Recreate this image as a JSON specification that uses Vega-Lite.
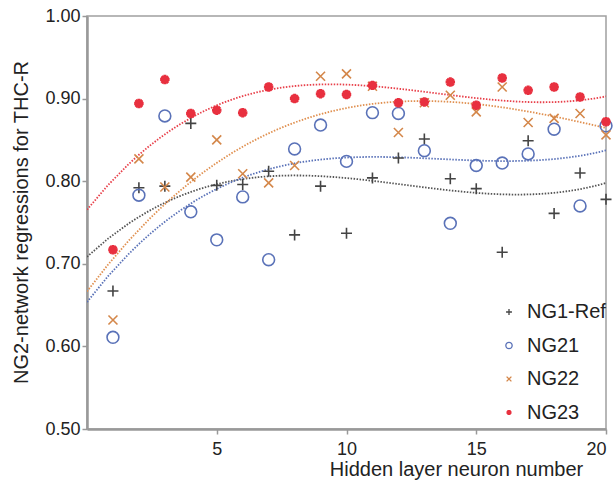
{
  "$schema": "https://vega.github.io/schema/vega-lite/v6.json",
  "width": 519,
  "height": 413,
  "autosize": {"type": "none"},
  "padding": {"left": 87, "top": 16, "right": 10, "bottom": 53},
  "background": "white",
  "config": {
    "font": "Liberation Sans",
    "view": {"stroke": "#a0a0a0", "strokeWidth": 1.5},
    "axis": {"grid": false, "domainColor": "#999999", "domainWidth": 2.5, "tickColor": "#999999", "tickWidth": 1.5, "tickSize": 5, "labelFont": "Liberation Sans", "labelFontSize": 18, "labelColor": "#222", "titleFont": "Liberation Sans", "titleFontSize": 20, "titleFontWeight": "normal", "titleColor": "#222"}
  },
  "data": {"values": [
    {"n":1,"series":"NG1-Ref","v":0.667},{"n":2,"series":"NG1-Ref","v":0.792},{"n":3,"series":"NG1-Ref","v":0.794},{"n":4,"series":"NG1-Ref","v":0.870},{"n":5,"series":"NG1-Ref","v":0.795},
    {"n":6,"series":"NG1-Ref","v":0.796},{"n":7,"series":"NG1-Ref","v":0.812},{"n":8,"series":"NG1-Ref","v":0.735},{"n":9,"series":"NG1-Ref","v":0.794},{"n":10,"series":"NG1-Ref","v":0.737},
    {"n":11,"series":"NG1-Ref","v":0.804},{"n":12,"series":"NG1-Ref","v":0.828},{"n":13,"series":"NG1-Ref","v":0.851},{"n":14,"series":"NG1-Ref","v":0.803},{"n":15,"series":"NG1-Ref","v":0.791},
    {"n":16,"series":"NG1-Ref","v":0.714},{"n":17,"series":"NG1-Ref","v":0.849},{"n":18,"series":"NG1-Ref","v":0.761},{"n":19,"series":"NG1-Ref","v":0.810},{"n":20,"series":"NG1-Ref","v":0.778},
    {"n":1,"series":"NG21","v":0.611},{"n":2,"series":"NG21","v":0.783},{"n":3,"series":"NG21","v":0.879},{"n":4,"series":"NG21","v":0.763},{"n":5,"series":"NG21","v":0.729},
    {"n":6,"series":"NG21","v":0.781},{"n":7,"series":"NG21","v":0.705},{"n":8,"series":"NG21","v":0.839},{"n":9,"series":"NG21","v":0.868},{"n":10,"series":"NG21","v":0.824},
    {"n":11,"series":"NG21","v":0.883},{"n":12,"series":"NG21","v":0.882},{"n":13,"series":"NG21","v":0.837},{"n":14,"series":"NG21","v":0.749},{"n":15,"series":"NG21","v":0.819},
    {"n":16,"series":"NG21","v":0.822},{"n":17,"series":"NG21","v":0.833},{"n":18,"series":"NG21","v":0.863},{"n":19,"series":"NG21","v":0.770},{"n":20,"series":"NG21","v":0.867},
    {"n":1,"series":"NG22","v":0.632},{"n":2,"series":"NG22","v":0.827},{"n":3,"series":"NG22","v":0.793},{"n":4,"series":"NG22","v":0.805},{"n":5,"series":"NG22","v":0.850},
    {"n":6,"series":"NG22","v":0.809},{"n":7,"series":"NG22","v":0.798},{"n":8,"series":"NG22","v":0.819},{"n":9,"series":"NG22","v":0.927},{"n":10,"series":"NG22","v":0.930},
    {"n":11,"series":"NG22","v":0.915},{"n":12,"series":"NG22","v":0.859},{"n":13,"series":"NG22","v":0.895},{"n":14,"series":"NG22","v":0.904},{"n":15,"series":"NG22","v":0.884},
    {"n":16,"series":"NG22","v":0.914},{"n":17,"series":"NG22","v":0.871},{"n":18,"series":"NG22","v":0.876},{"n":19,"series":"NG22","v":0.882},{"n":20,"series":"NG22","v":0.856},
    {"n":1,"series":"NG23","v":0.717},{"n":2,"series":"NG23","v":0.894},{"n":3,"series":"NG23","v":0.923},{"n":4,"series":"NG23","v":0.882},{"n":5,"series":"NG23","v":0.886},
    {"n":6,"series":"NG23","v":0.883},{"n":7,"series":"NG23","v":0.914},{"n":8,"series":"NG23","v":0.900},{"n":9,"series":"NG23","v":0.906},{"n":10,"series":"NG23","v":0.905},
    {"n":11,"series":"NG23","v":0.916},{"n":12,"series":"NG23","v":0.895},{"n":13,"series":"NG23","v":0.896},{"n":14,"series":"NG23","v":0.920},{"n":15,"series":"NG23","v":0.892},
    {"n":16,"series":"NG23","v":0.925},{"n":17,"series":"NG23","v":0.910},{"n":18,"series":"NG23","v":0.914},{"n":19,"series":"NG23","v":0.902},{"n":20,"series":"NG23","v":0.872}
  ]},
  "layer": [
    {
      "transform": [{"regression": "v", "on": "n", "groupby": ["series"], "method": "poly", "order": 3, "extent": [0, 20]}],
      "mark": {"type": "line", "strokeDash": [1.5, 1.5], "strokeWidth": 1.8, "clip": true},
      "encoding": {
        "x": {"field": "n", "type": "quantitative"},
        "y": {"field": "v", "type": "quantitative"},
        "detail": {"field": "series"},
        "stroke": {"field": "series", "type": "nominal", "legend": null, "scale": {"domain": ["NG23","NG22","NG21","NG1-Ref"], "range": ["#e8404a","#e09050","#5a72b8","#555555"]}}
      }
    },
    {
      "mark": {"type": "point", "filled": false, "opacity": 1, "size": 140, "strokeWidth": 1.6},
      "encoding": {
        "x": {"field": "n", "type": "quantitative", "scale": {"domain": [0, 20], "nice": false},
              "axis": {"values": [5, 10, 15, 20], "title": "Hidden layer neuron number", "labelPadding": 6, "titleX": 369, "titleY": 46, "titleBaseline": "alphabetic", "titleAlign": "center"}},
        "y": {"field": "v", "type": "quantitative", "scale": {"domain": [0.5, 1.0], "nice": false, "zero": false},
              "axis": {"values": [0.5, 0.6, 0.7, 0.8, 0.9, 1.0], "format": ".2f", "labelPadding": 2, "title": "NG2-network regressions for THC-R", "titleX": -60, "titleY": 206, "titleAngle": 270, "titleBaseline": "alphabetic", "titleAlign": "center"}},
        "color": {"field": "series", "type": "nominal", "title": null,
                  "scale": {"domain": ["NG1-Ref","NG21","NG22","NG23"], "range": ["#444444","#5a72b8","#d4874a","#e8303f"]},
                  "legend": {"orient": "none", "legendX": 412, "legendY": 286, "labelFontSize": 20, "labelColor": "#222", "symbolSize": 40, "symbolStrokeWidth": 1.3, "rowPadding": 13.5, "labelOffset": 8}},
        "shape": {"field": "series", "type": "nominal",
                  "scale": {"domain": ["NG1-Ref","NG21","NG22","NG23"], "range": [
                    "M-0.93,0L0.93,0M0,-0.93L0,0.93",
                    "circle",
                    "M-0.76,-0.76L0.76,0.76M-0.76,0.76L0.76,-0.76",
                    "M-0.8,-0.12L0.8,-0.12M-0.8,0L0.8,0M-0.8,0.12L0.8,0.12M-0.12,-0.8L-0.12,0.8M0,-0.8L0,0.8M0.12,-0.8L0.12,0.8M-0.57,-0.57L0.57,0.57M-0.485,-0.655L0.655,0.485M-0.655,-0.485L0.485,0.655M-0.57,0.57L0.57,-0.57M-0.485,0.655L0.655,-0.485M-0.655,0.485L0.485,-0.655"
                  ]}}
      }
    }
  ]
}
